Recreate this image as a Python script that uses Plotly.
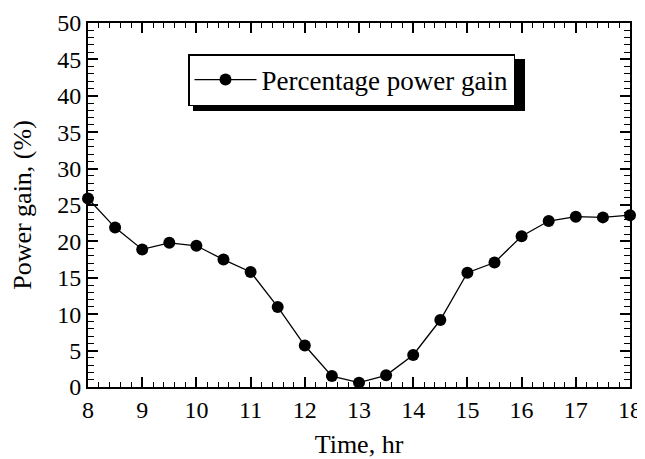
import plotly.graph_objects as go

time_hr = [8, 8.5, 9, 9.5, 10, 10.5, 11, 11.5, 12, 12.5, 13, 13.5, 14, 14.5, 15, 15.5, 16, 16.5, 17, 17.5, 18]
power_gain = [25.9, 21.9, 18.9, 19.8, 19.4, 17.5, 15.8, 11.0, 5.7, 1.5, 0.6, 1.6, 4.4, 9.2, 15.7, 17.1, 20.7, 22.8, 23.4, 23.3, 23.6]
x_ticks = list(range(8, 19))
y_ticks = list(range(0, 51, 5))

# page offset from default body margin
OFF = 8
W, H = 645 - OFF, 459 - OFF
# target plot area in page pixels: x 88..630, y 23..387
L, T = 88 - OFF, 23 - OFF
R = W - (630 - OFF)
B = H - (387 - OFF)
pw, ph = W - L - R, H - T - B

def px_to_paper(x, y):
    # x, y in page pixels
    return (x - OFF - L) / pw, (H - B - (y - OFF)) / ph

FONT = "Liberation Serif, Times New Roman, serif"

fig = go.Figure()
fig.add_trace(go.Scatter(
    x=time_hr, y=power_gain, mode="lines+markers",
    name="Percentage power gain",
    line=dict(color="black", width=1.3),
    marker=dict(color="black", size=12),
    cliponaxis=False,
))

axis_common = dict(
    showline=True, linecolor="black", linewidth=2, mirror="ticks",
    ticks="inside", ticklen=10, tickwidth=1.5, tickcolor="black",
    showgrid=False, zeroline=False, automargin=False,
    tickfont=dict(family=FONT, size=24, color="black"),
)

fig.update_xaxes(
    range=[8, 18], tickvals=x_ticks,
    minor=dict(dtick=0.2, ticks="inside", ticklen=5, tickwidth=1.2, tickcolor="black", showgrid=False),
    title=dict(text="Time, hr", font=dict(family=FONT, size=26, color="black"), standoff=22),
    **axis_common,
)
fig.update_yaxes(
    range=[0, 50], tickvals=y_ticks,
    minor=dict(dtick=1, ticks="inside", ticklen=6, tickwidth=1.2, tickcolor="black", showgrid=False),
    title=dict(text="Power gain, (%)", font=dict(family=FONT, size=26, color="black"), standoff=22),
    **axis_common,
)

lx, ly = px_to_paper(188, 54)
sx0, sy0 = px_to_paper(193, 111)
sx1, sy1 = px_to_paper(525, 59)

fig.add_shape(type="rect", xref="paper", yref="paper",
              x0=sx0, y0=sy0, x1=sx1, y1=sy1,
              fillcolor="black", line=dict(width=0), layer="above")

fig.update_layout(
    width=W, height=H,
    margin=dict(l=L, r=R, t=T, b=B),
    paper_bgcolor="white", plot_bgcolor="white",
    showlegend=True,
    legend=dict(
        x=lx, y=ly, xanchor="left", yanchor="top",
        bgcolor="white", bordercolor="black", borderwidth=1.5,
        font=dict(family=FONT, size=27, color="black"),
        itemwidth=62,
    ),
)

fig.write_html("out.html")
